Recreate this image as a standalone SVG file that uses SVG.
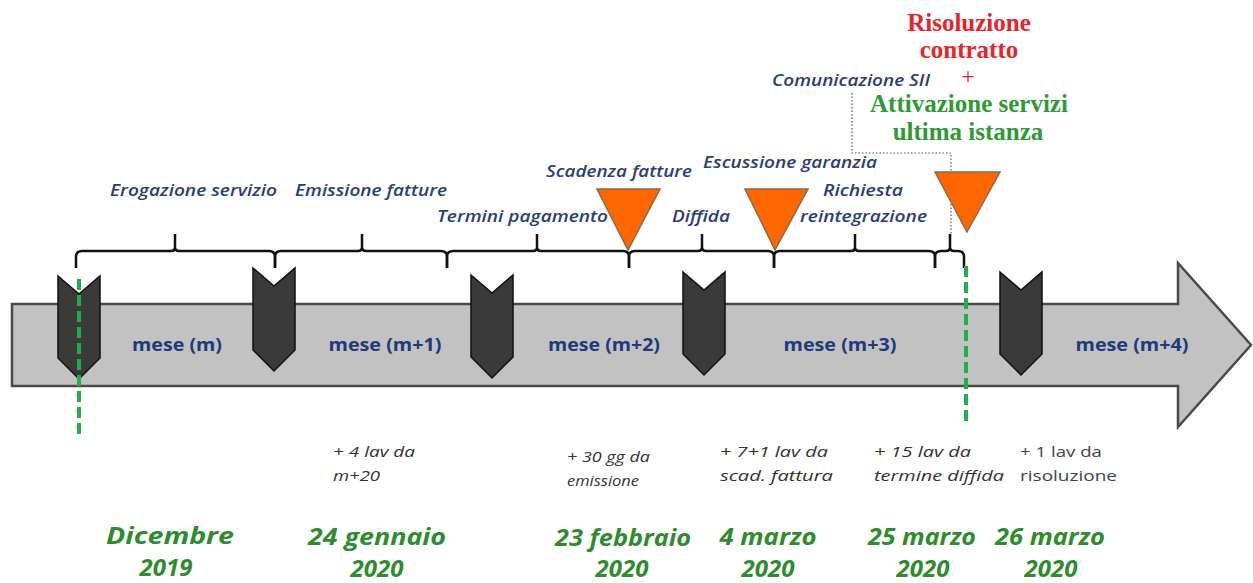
<svg xmlns="http://www.w3.org/2000/svg" width="1253" height="583" viewBox="0 0 1253 583">
<style>
.lbl{font-family:"Open Sans","Noto Sans","Liberation Sans",sans-serif;font-style:italic;font-weight:600;font-size:16px;fill:#2b3d7a}
.mese{font-family:"Open Sans","Liberation Sans",sans-serif;font-weight:700;font-size:17px;fill:#23397a;text-anchor:middle}
.note{font-family:"Open Sans","Liberation Sans",sans-serif;font-style:italic;font-size:15px;fill:#333}
.note2{font-family:"Open Sans","Liberation Sans",sans-serif;font-size:15px;fill:#444}
.date{font-family:"Open Sans","Liberation Sans",sans-serif;font-style:italic;font-weight:700;font-size:24px;fill:#2e8b2e;text-anchor:middle}
.red{font-family:"Liberation Serif",serif;font-weight:700;font-size:25px;fill:#e8232a;text-anchor:middle}
.grn{font-family:"Liberation Serif",serif;font-weight:700;font-size:25px;fill:#2f9a35;text-anchor:middle}
.band{fill:#c2c2c2;stroke:#4a4a4a;stroke-width:2.5;stroke-linejoin:miter}
.chev{fill:#3a3a3a;stroke:#111;stroke-width:1.5}
.tri{fill:#ff6600;stroke:#8a6a50;stroke-width:1.5}
.brace{fill:none;stroke:#111;stroke-width:2.5;stroke-linejoin:round;stroke-linecap:butt}
.gdash{stroke:#1fae4a;stroke-width:4;stroke-dasharray:11 5;fill:none}
.dot{stroke:#555;stroke-width:1.2;stroke-dasharray:1.5 2;fill:none}
</style>
<defs>
<polygon id="chevron" class="chev" points="-21,0 0,18 21,0 21,82 0,103 -21,82"/>
</defs>
<rect width="1253" height="583" fill="#fff"/>

<g id="timeline">
<polygon class="band" points="12,304 1178,304 1178,263 1251,345 1178,427 1178,386 12,386"/>
</g>

<g id="braces">
<path class="brace" d="M76,268 V257 Q76,251 82,251 H171 Q175,251 175,247 V234 M175,247 Q175,251 179,251 H269 Q275,251 275,257 V268"/>
<path class="brace" d="M275,268 V257 Q275,251 281,251 H358 Q362,251 362,247 V234 M362,247 Q362,251 366,251 H441 Q447,251 447,257 V268"/>
<path class="brace" d="M447,268 V257 Q447,251 453,251 H533 Q537,251 537,247 V234 M537,247 Q537,251 541,251 H623 Q629,251 629,257 V268"/>
<path class="brace" d="M629,268 V257 Q629,251 635,251 H698 Q702,251 702,247 V234 M702,247 Q702,251 706,251 H768 Q774,251 774,257 V268"/>
<path class="brace" d="M774,268 V257 Q774,251 780,251 H851 Q855,251 855,247 V234 M855,247 Q855,251 859,251 H929 Q935,251 935,257 V268"/>
<path class="brace" d="M935,268 V257 Q935,251 941,251 H946 Q950,251 950,247 V234 M950,247 Q950,251 954,251 H958 Q964,251 964,257 V268"/>
</g>

<g id="chevron-1"><use href="#chevron" transform="translate(79,276)"/></g>
<g id="chevron-2"><use href="#chevron" transform="translate(274,268)"/></g>
<g id="chevron-3"><use href="#chevron" transform="translate(492,275)"/></g>
<g id="chevron-4"><use href="#chevron" transform="translate(704,272)"/></g>
<g id="chevron-5"><use href="#chevron" transform="translate(1021,272)"/></g>

<g id="connectors">
<path class="gdash" d="M79,279 V434"/>
<path class="gdash" d="M966,266 V424"/>
<path class="dot" d="M852,93 V153 H951 V236"/>
</g>

<g id="triangle-1"><polygon class="tri" points="597,189 660,189 628,250"/></g>
<g id="triangle-2"><polygon class="tri" points="745,189 808,189 775,250"/></g>
<g id="triangle-3"><polygon class="tri" points="935,172 1000,172 967,232"/></g>

<g id="months">
<text class="mese" x="177" y="351" textLength="90" lengthAdjust="spacingAndGlyphs">mese (m)</text>
<text class="mese" x="385" y="351" textLength="113" lengthAdjust="spacingAndGlyphs">mese (m+1)</text>
<text class="mese" x="604" y="351" textLength="112" lengthAdjust="spacingAndGlyphs">mese (m+2)</text>
<text class="mese" x="840" y="351" textLength="113" lengthAdjust="spacingAndGlyphs">mese (m+3)</text>
<text class="mese" x="1132" y="351" textLength="113" lengthAdjust="spacingAndGlyphs">mese (m+4)</text>
</g>

<g id="labels">
<text class="lbl" x="110" y="196" textLength="167" lengthAdjust="spacingAndGlyphs">Erogazione servizio</text>
<text class="lbl" x="295" y="196" textLength="152" lengthAdjust="spacingAndGlyphs">Emissione fatture</text>
<text class="lbl" x="437" y="222" textLength="171" lengthAdjust="spacingAndGlyphs">Termini pagamento</text>
<text class="lbl" x="546" y="177" textLength="146" lengthAdjust="spacingAndGlyphs">Scadenza fatture</text>
<text class="lbl" x="672" y="222" textLength="58" lengthAdjust="spacingAndGlyphs">Diffida</text>
<text class="lbl" x="703" y="168" textLength="174" lengthAdjust="spacingAndGlyphs">Escussione garanzia</text>
<text class="lbl" x="823" y="196" textLength="80" lengthAdjust="spacingAndGlyphs">Richiesta</text>
<text class="lbl" x="800" y="222" textLength="127" lengthAdjust="spacingAndGlyphs">reintegrazione</text>
<text class="lbl" x="772" y="86" textLength="158" lengthAdjust="spacingAndGlyphs">Comunicazione SII</text>
</g>

<g id="outcome">
<text class="red" x="969" y="31">Risoluzione</text>
<text class="red" x="969" y="58">contratto</text>
<text class="red" x="968" y="84" style="font-weight:400;font-size:24px">+</text>
<text class="grn" x="969" y="112">Attivazione servizi</text>
<text class="grn" x="968" y="140">ultima istanza</text>
</g>

<g id="notes">
<text class="note" x="333" y="457" textLength="82" lengthAdjust="spacingAndGlyphs">+ 4 lav da</text>
<text class="note" x="333" y="481" textLength="47" lengthAdjust="spacingAndGlyphs">m+20</text>
<text class="note" x="567" y="462" textLength="83" lengthAdjust="spacingAndGlyphs">+ 30 gg da</text>
<text class="note" x="567" y="486" textLength="72" lengthAdjust="spacingAndGlyphs">emissione</text>
<text class="note" x="720" y="457" textLength="108" lengthAdjust="spacingAndGlyphs">+ 7+1 lav da</text>
<text class="note" x="720" y="481" textLength="113" lengthAdjust="spacingAndGlyphs">scad. fattura</text>
<text class="note" x="874" y="457" textLength="97" lengthAdjust="spacingAndGlyphs">+ 15 lav da</text>
<text class="note" x="874" y="481" textLength="130" lengthAdjust="spacingAndGlyphs">termine diffida</text>
<text class="note2" x="1020" y="457" textLength="82" lengthAdjust="spacingAndGlyphs">+ 1 lav da</text>
<text class="note2" x="1020" y="481" textLength="97" lengthAdjust="spacingAndGlyphs">risoluzione</text>
</g>

<g id="dates">
<text class="date" x="170" y="544" textLength="128" lengthAdjust="spacingAndGlyphs">Dicembre</text>
<text class="date" x="166" y="576">2019</text>
<text class="date" x="377" y="545" textLength="138" lengthAdjust="spacingAndGlyphs">24 gennaio</text>
<text class="date" x="377" y="577">2020</text>
<text class="date" x="623" y="546" textLength="136" lengthAdjust="spacingAndGlyphs">23 febbraio</text>
<text class="date" x="622" y="577">2020</text>
<text class="date" x="768" y="545" textLength="97" lengthAdjust="spacingAndGlyphs">4 marzo</text>
<text class="date" x="768" y="577">2020</text>
<text class="date" x="922" y="545" textLength="108" lengthAdjust="spacingAndGlyphs">25 marzo</text>
<text class="date" x="923" y="577">2020</text>
<text class="date" x="1050" y="545" textLength="110" lengthAdjust="spacingAndGlyphs">26 marzo</text>
<text class="date" x="1051" y="577">2020</text>
</g>
</svg>
